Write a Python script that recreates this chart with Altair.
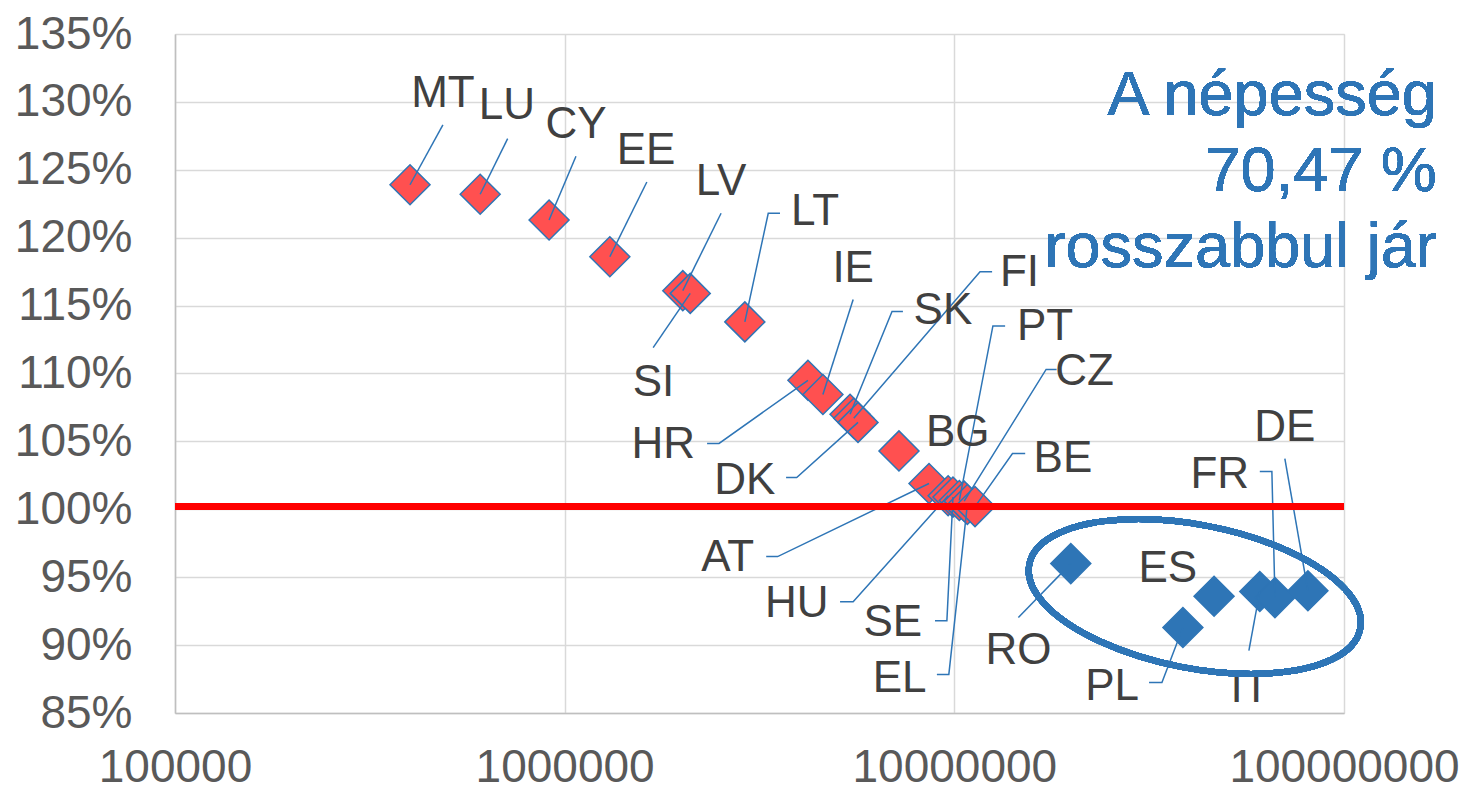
import altair as alt
import pandas as pd

# ---- data ----
countries = ["MT", "LU", "CY", "EE", "LV", "SI", "LT", "HR", "IE", "SK", "FI", "DK", "BG",
             "AT", "HU", "SE", "PT", "CZ", "EL", "BE", "RO", "PL", "ES", "IT", "FR", "DE"]
population = [401e3, 607e3, 912e3, 1.306e6, 2.01e6, 2.10e6, 2.90e6, 4.21e6, 4.60e6, 5.40e6,
              5.52e6, 5.66e6, 7.21e6, 8.61e6, 9.64e6, 9.92e6, 10.3e6, 10.6e6, 10.8e6, 11.3e6,
              19.9e6, 38.6e6, 46.4e6, 60.8e6, 66.5e6, 80.8e6]
ratio = [1.239, 1.232, 1.213, 1.186, 1.161, 1.159, 1.138, 1.095, 1.0845, 1.070, 1.067, 1.064,
         1.043, 1.019, 1.010, 1.009, 1.0065, 1.006, 1.0035, 1.002, 0.960, 0.913, 0.936, 0.9395,
         0.935, 0.940]

# label anchor positions (data units)
label_x = [487e3, 711e3, 1.069e6, 1.617e6, 2.52e6, 1.69e6, 4.39e6, 1.79e6, 5.50e6, 9.35e6,
           14.7e6, 2.90e6, 10.2e6, 2.62e6, 3.94e6, 6.95e6, 17.1e6, 21.6e6, 7.24e6, 19.0e6,
           14.6e6, 25.4e6, 35.3e6, 57.4e6, 48.0e6, 70.5e6]
label_y = [1.306, 1.297, 1.283, 1.264, 1.241, 1.093, 1.219, 1.047, 1.177, 1.146, 1.174, 1.021,
           1.0565, 0.9645, 0.9306, 0.9166, 1.134, 1.101, 0.8754, 1.037, 0.896, 0.8695, 0.9564,
           0.868, 1.0256, 1.0595]

# leader lines: optional elbow and end (data units), None = absent
leader_elbow_x = [None, None, None, None, None, None, 3.33e6, 2.49e6, None, 6.92e6, 11.64e6, 3.94e6,
                  None, 3.52e6, 5.50e6, 9.57e6, 12.56e6, 17.2e6, 9.68e6, 14.1e6, None, 34.1e6,
                  None, None, 65.3e6, None]
leader_end_x = [487e3, 714e3, 1.069e6, 1.625e6, 2.52e6, 1.687e6, 3.57e6, 2.32e6, 5.50e6, 7.38e6,
                12.5e6, 3.70e6, None, 3.29e6, 5.09e6, 8.92e6, 13.5e6, 18.3e6, 9.02e6, 15.2e6,
                14.6e6, 31.6e6, None, 57.0e6, 60.8e6, 70.5e6]
leader_end_y = [1.283, 1.273, 1.260, 1.241, 1.218, 1.119, 1.218, 1.0485, 1.1545, 1.1457, 1.175,
                1.0234, None, 0.9652, 0.932, 0.918, 1.135, 1.103, 0.8784, 1.041, 0.9203, 0.8725,
                None, 0.896, 1.0278, 1.0374]

y_ticks = [0.85, 0.90, 0.95, 1.00, 1.05, 1.10, 1.15, 1.20, 1.25, 1.30, 1.35]
x_ticks = [100000, 1000000, 10000000, 100000000]
annotation_lines = ["A népesség", "70,47 %", "rosszabbul jár"]

BLUE = "#2E75B6"
FONT = "Liberation Sans"

df = pd.DataFrame({
    "country": countries,
    "pop": population,
    "ratio": ratio,
    "group": ["jobb" if r >= 1 else "rosszabb" for r in ratio],
    "lx": label_x,
    "ly": label_y,
})

rows = []
for i, c in enumerate(countries):
    if leader_end_x[i] is None:
        continue
    rows.append({"country": c, "x": population[i], "y": ratio[i], "o": 0})
    if leader_elbow_x[i] is not None:
        rows.append({"country": c, "x": leader_elbow_x[i], "y": leader_end_y[i], "o": 1})
    rows.append({"country": c, "x": leader_end_x[i], "y": leader_end_y[i], "o": 2})
leaders_df = pd.DataFrame(rows)

xscale = alt.Scale(type="log", domain=[1e5, 1e8], nice=False)
yscale = alt.Scale(domain=[0.85, 1.35], nice=False, zero=False)

xaxis = alt.Axis(values=x_ticks, format="d", title=None, ticks=False, tickSize=0,
                 labelFontSize=46, labelColor="#595959", labelFont=FONT, labelPadding=32,
                 labelFlush=False, labelOverlap=False, labelLimit=1000,
                 gridColor="#D9D9D9", gridWidth=1.5, domainColor="#BFBFBF", domainWidth=1.5)
yaxis = alt.Axis(values=y_ticks, format=".0%", title=None, ticks=False, tickSize=0,
                 labelFontSize=46, labelColor="#595959", labelFont=FONT, labelPadding=43,
                 labelFlush=False, labelOverlap=False, labelLimit=1000,
                 gridColor="#D9D9D9", gridWidth=1.5, domainColor="#BFBFBF", domainWidth=1.5)

points = alt.Chart(df).mark_point(
    shape="diamond", filled=True, size=1600, stroke=BLUE, strokeWidth=1.5, opacity=1
).encode(
    x=alt.X("pop:Q", scale=xscale, axis=xaxis),
    y=alt.Y("ratio:Q", scale=yscale, axis=yaxis),
    fill=alt.Fill("group:N", scale=alt.Scale(domain=["jobb", "rosszabb"],
                                             range=["#FF5050", BLUE]), legend=None),
)

leaders = alt.Chart(leaders_df).mark_line(color=BLUE, strokeWidth=1.5).encode(
    x=alt.X("x:Q", scale=xscale),
    y=alt.Y("y:Q", scale=yscale),
    detail="country:N",
    order=alt.Order("o:Q"),
)

red_line = alt.Chart(df).mark_rule(color="#FF0000", strokeWidth=6).encode(
    y=alt.datum(1.002)
)

labels = alt.Chart(df).mark_text(
    fontSize=44, font=FONT, color="#404040", align="center", baseline="middle"
).encode(
    x=alt.X("lx:Q", scale=xscale),
    y=alt.Y("ly:Q", scale=yscale),
    text="country:N",
)

ellipse_path = ("M -0.9816 -0.1908 A 1 0.422 11 1 1 0.9816 0.1908 "
                "A 1 0.422 11 1 1 -0.9816 -0.1908 Z")
ellipse = alt.Chart(df).mark_point(
    shape=ellipse_path, size=113600, filled=False, stroke=BLUE, strokeWidth=6, opacity=1
).encode(
    x=alt.datum(41.4e6),
    y=alt.datum(0.9358),
)

annotation = alt.Chart(df).mark_text(
    text=annotation_lines, align="right", baseline="alphabetic", fontSize=63,
    lineHeight=76, font=FONT, color=BLUE
).encode(
    x=alt.datum(173e6),
    y=alt.datum(1.290),
)

chart = alt.layer(points, leaders, red_line, labels, ellipse, annotation).properties(
    width=1169,
    height=679,
    autosize=alt.AutoSizeParams(type="none"),
    padding={"left": 167, "top": 26, "right": 116, "bottom": 78},
).configure_view(stroke=None).configure(background="white")

chart.save("out.html", embed_options={"renderer": "svg", "actions": False})
